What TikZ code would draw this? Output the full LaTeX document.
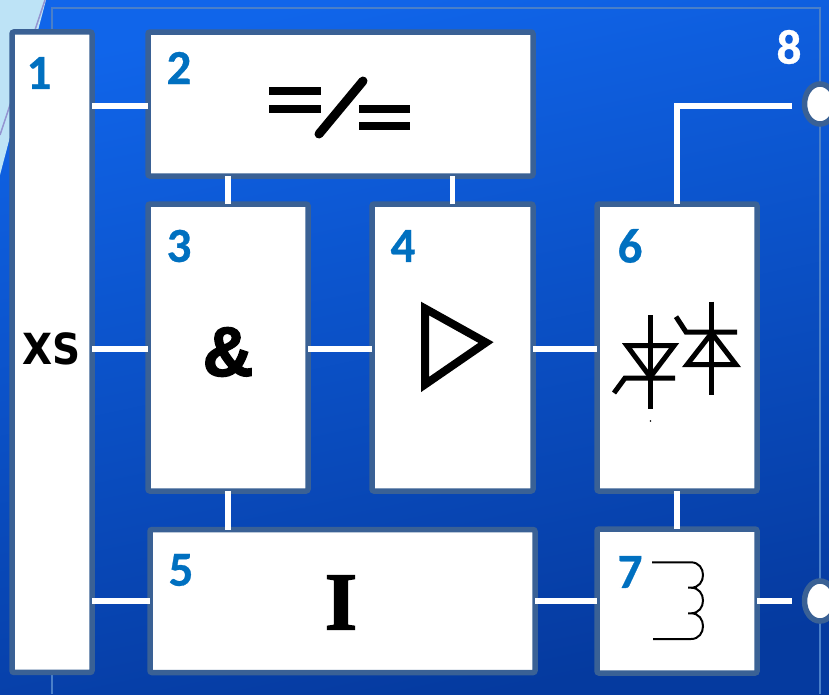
\documentclass[tikz,border=0pt]{standalone}
\usepackage{fontspec}
\setmainfont{Carlito}[BoldFeatures={FakeBold=0.6}]
\newfontfamily\xsfont{DejaVu Sans}
\newfontfamily\ampfont{Liberation Sans}[BoldFeatures={FakeBold=2.2}]
\newfontfamily\ifont{Liberation Serif}[BoldFeatures={FakeBold=2}]
\usetikzlibrary{shapes.geometric}
\definecolor{edgeblue}{HTML}{3A6195}
\definecolor{digitblue}{HTML}{0070C0}
\definecolor{thinblue}{HTML}{4A7FC8}
\definecolor{bgtop}{HTML}{1065EA}
\definecolor{bgbot}{HTML}{053A9F}
\definecolor{glass}{HTML}{BDE3F6}
\tikzset{
  box/.style={draw=edgeblue,fill=white,line width=5.5pt,rounded corners=2pt,inner sep=0pt,outer sep=0pt},
  term/.style={ellipse,draw=edgeblue,fill=white,line width=5.5pt,inner sep=0pt,outer sep=0pt,minimum width=31pt,minimum height=40pt},
  wire/.style={draw=white,line width=5.5pt},
  digit/.style={text=digitblue,font=\fontsize{49}{49}\selectfont\bfseries,inner sep=0pt},
  sym/.style={draw=black,line width=8pt},
  thy/.style={draw=black,line width=5pt}
}
\begin{document}
\begin{tikzpicture}[x=1pt,y=-1pt]
\useasboundingbox (0,0) rectangle (829,694);
\clip (0,0) rectangle (829,694);
\shade[top color=bgtop,bottom color=bgbot,shading angle=12] (0,0) rectangle (829,694);
\fill[glass] (0,0) -- (46,0) -- (0,175) -- cycle;
\draw[line width=1.5pt,draw=gray!60!blue!60] (45,0) -- (0,135);
\draw[thinblue,line width=1.5pt] (52,694) -- (52,8) -- (820,8) -- (820,694);

\node[box,minimum width=80pt,minimum height=640.5pt] (b1) at (52,352.2) {};
\node[box,minimum width=385pt,minimum height=144pt] (b2) at (340.5,104) {};
\node[box,minimum width=160pt,minimum height=287pt] (b3) at (228,347.5) {};
\node[box,minimum width=161pt,minimum height=287pt] (b4) at (452.5,347.5) {};
\node[box,minimum width=385pt,minimum height=143pt] (b5) at (342.5,601) {};
\node[box,minimum width=160pt,minimum height=287pt] (b6) at (677,347.5) {};
\node[box,minimum width=160pt,minimum height=144pt] (b7) at (677,601) {};
\node[term] (t8) at (820,104) {};
\node[term] (t9) at (820,601) {};

\draw[wire] ([yshift=-2pt]b2.west -| b1.east) -- ([yshift=-2pt]b2.west);
\draw[wire] ([yshift=-1.5pt]b3.west -| b1.east) -- ([yshift=-1.5pt]b3.west);
\draw[wire] (b5.west -| b1.east) -- (b5.west);
\draw[wire] (b3.north) -- (b3.north |- b2.south);
\draw[wire] (b4.north) -- (b4.north |- b2.south);
\draw[wire] (b3.south) -- (b3.south |- b5.north);
\draw[wire] ([yshift=-1.5pt]b3.east) -- ([yshift=-1.5pt]b4.west);
\draw[wire] ([yshift=-1.5pt]b4.east) -- ([yshift=-1.5pt]b6.west);
\draw[wire] (b5.east) -- (b7.west);
\draw[wire] (b6.south) -- (b7.north);
\draw[wire] (b7.east) -- ([xshift=-13pt]t9.west);
\draw[wire] (b6.north) |- ([yshift=-2pt,xshift=-13pt]t8.west);

\node[digit] (n1) at (39,73) {1};
\node[digit] (n2) at (179,68) {2};
\node[digit] (n3) at (179,246) {3};
\node[digit] (n4) at (403,246) {4};
\node[digit] (n5) at (181,570) {5};
\node[digit] (n6) at (630,246) {6};
\node[digit] (n7) at (630,572) {7};
\node[digit,text=white] (n8) at (789,47) {8};
\node[inner sep=0pt,yscale=1.1,font=\xsfont\fontsize{39}{39}\selectfont\bfseries] (xs) at (51.5,349) {XS};
\node[inner sep=0pt,font=\ampfont\fontsize{70}{70}\selectfont\bfseries] (amp) at (228,352) {\&};
\node[inner sep=0pt,font=\ifont\fontsize{82}{82}\selectfont\bfseries] (ii) at (341,602.5) {I};

% converter symbol
\draw[sym] (269,91) -- (321,91) (269,109) -- (321,109);
\draw[sym,line width=9pt,line cap=round] (319,134) -- (363,81);
\draw[sym] (359,109) -- (410,109) (359,126) -- (410,126);
% amplifier symbol
\draw[sym,miter limit=10] (425,308.5) -- (486,342.5) -- (425,384.5) -- cycle;
% thyristors
\draw[thy] (650.3,315) -- (650.3,409);
\draw[thy,line join=miter] (627,345.7) -- (674,345.7) -- (650.3,377) -- cycle;
\draw[thy] (675,378) -- (625,378) -- (614,393);
\fill (650.5,421) circle (0.8pt);
\draw[thy] (711.7,301.7) -- (711.7,395);
\draw[thy] (687,364.7) -- (736,364.7) -- (711.7,333) -- cycle;
\draw[thy] (737,332) -- (686,332) -- (676,316.7);
% inductor
\draw[black,line width=2pt] (652,562.3) -- (691,562.3)
  .. controls (707,562.3) and (707,587.7) .. (691,587.7) -- (688,587.7)
  (691,587.7) .. controls (707,587.7) and (707,613.3) .. (691,613.3) -- (688,613.3)
  (691,613.3) .. controls (707,613.3) and (707,639) .. (691,639) -- (653,639);
\end{tikzpicture}
\end{document}
